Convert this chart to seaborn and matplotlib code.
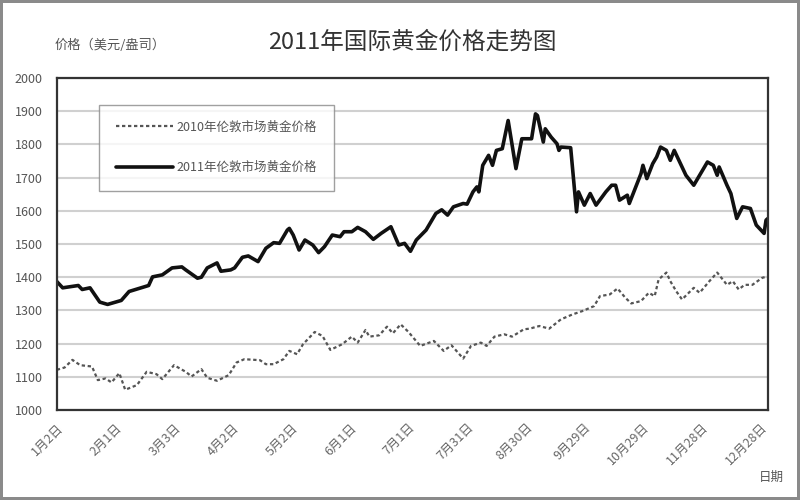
import matplotlib
matplotlib.use("Agg")
import matplotlib.pyplot as plt
import seaborn as sns
import pandas as pd

# === DATA (x = days since Jan 2) ===
days_2011 = [0, 3, 11, 13, 17, 22, 26, 33, 37, 42, 47, 49, 54, 59, 64, 66, 72, 74, 77, 82,
             84, 89, 91, 95, 98, 103, 107, 111, 114, 118, 119, 121, 124, 127, 131, 134, 137,
             141, 145, 147, 151, 154, 158, 162, 166, 171, 175, 178, 181, 184, 189, 194, 197,
             200, 203, 208, 210, 213, 215, 216, 218, 221, 223, 225, 228, 231, 235, 238, 243,
             245, 246, 249, 250, 253, 256, 257, 258, 263, 266, 267, 270, 273, 276, 281, 284,
             286, 288, 292, 293, 299, 300, 302, 305, 307, 309, 312, 314, 316, 318, 322, 326,
             329, 333, 336, 338, 339, 343, 345, 348, 351, 355, 358, 362, 363, 364]
price_2011 = [1387, 1368, 1375, 1363, 1368, 1325, 1318, 1330, 1357, 1366, 1375, 1401, 1407,
              1428, 1431, 1422, 1397, 1400, 1428, 1443, 1418, 1422, 1428, 1460, 1464, 1447,
              1487, 1504, 1502, 1542, 1547, 1527, 1482, 1512, 1497, 1474, 1492, 1527, 1522,
              1537, 1537, 1550, 1537, 1514, 1532, 1552, 1497, 1502, 1478, 1512, 1542, 1592,
              1603, 1587, 1612, 1622, 1620, 1657, 1672, 1657, 1737, 1767, 1737, 1782, 1787,
              1872, 1727, 1817, 1817, 1892, 1887, 1807, 1847, 1822, 1802, 1782, 1792, 1790,
              1597, 1657, 1617, 1652, 1617, 1657, 1677, 1677, 1632, 1647, 1622, 1712, 1737,
              1697, 1742, 1762, 1792, 1782, 1752, 1782, 1757, 1707, 1677, 1707, 1747, 1737,
              1707, 1732, 1677, 1652, 1577, 1612, 1607, 1557, 1532, 1572, 1577]

days_2010 = [0, 4, 8, 12, 18, 21, 25, 28, 32, 35, 41, 46, 51, 54, 60, 66, 69, 74, 77, 82,
             88, 92, 96, 104, 107, 111, 116, 119, 123, 126, 132, 136, 140, 146, 151, 154, 158,
             160, 165, 169, 172, 176, 180, 186, 193, 198, 202, 208, 212, 217, 220, 224, 229,
             233, 239, 242, 247, 252, 258, 264, 269, 275, 278, 283, 287, 291, 294, 299, 303,
             306, 308, 312, 314, 317, 320, 326, 329, 334, 338, 343, 346, 349, 352, 356, 361, 364]
price_2010 = [1121, 1128, 1151, 1135, 1131, 1090, 1095, 1083, 1111, 1061, 1075, 1115, 1108,
              1093, 1135, 1115, 1101, 1123, 1097, 1088, 1105, 1143, 1153, 1150, 1138, 1138,
              1153, 1178, 1168, 1198, 1235, 1223, 1181, 1198, 1221, 1203, 1241, 1221, 1225,
              1251, 1231, 1258, 1235, 1193, 1208, 1178, 1195, 1155, 1193, 1203, 1193, 1221,
              1228, 1221, 1243, 1245, 1253, 1245, 1273, 1288, 1298, 1313, 1343, 1348, 1366,
              1338, 1321, 1328, 1353, 1343, 1393, 1414, 1388, 1358, 1333, 1368, 1353, 1388,
              1414, 1377, 1388, 1363, 1377, 1377, 1398, 1403]

tick_days = [0, 30, 60, 90, 120, 150, 180, 210, 240, 270, 300, 330, 360]
tick_labels = ["1月2日", "2月1日", "3月3日", "4月2日", "5月2日", "6月1日", "7月1日",
               "7月31日", "8月30日", "9月29日", "10月29日", "11月28日", "12月28日"]
y_ticks = list(range(1000, 2001, 100))

label_2010 = "2010年伦敦市场黄金价格"
label_2011 = "2011年伦敦市场黄金价格"

df10 = pd.DataFrame({"day": days_2010, "price": price_2010})
df11 = pd.DataFrame({"day": days_2011, "price": price_2011})

# === STYLE ===
sns.set_style("white")
plt.rcParams["font.family"] = ["Noto Sans CJK SC", "DejaVu Sans"]

fig = plt.figure(figsize=(8, 5), dpi=100)
fig.patch.set_edgecolor("#8a8a8a")
fig.patch.set_linewidth(4)
ax = fig.add_axes([0.071, 0.18, 0.889, 0.664])

ax.yaxis.grid(True, color="#d0d0d0", linewidth=1.5)
ax.set_axisbelow(True)

sns.lineplot(data=df10, x="day", y="price", ax=ax, color="#555555", linewidth=1.6,
             linestyle=(0, (1.5, 1.2)), label=label_2010)
sns.lineplot(data=df11, x="day", y="price", ax=ax, color="#111111", linewidth=2.6,
             label=label_2011)

ax.set_xlim(0, 364)
ax.set_ylim(1000, 2000)
ax.set_yticks(y_ticks)
ax.set_xticks(tick_days)
ax.set_xticklabels(tick_labels, rotation=45, ha="right", rotation_mode="anchor")
ax.tick_params(axis="x", direction="in", length=4, color="#444444", labelsize=9,
               labelcolor="#666666", pad=8)
ax.tick_params(axis="y", length=0, labelsize=9, labelcolor="#555555", pad=10)
ax.set_xlabel("")
ax.set_ylabel("")
for s in ax.spines.values():
    s.set_color("#333333")
    s.set_linewidth(1.6)

# legend box roughly x 100-333, y 105-190 in the reference
leg = ax.legend(loc="upper left", bbox_to_anchor=(0.06, 0.92), frameon=True,
                fancybox=False, edgecolor="#888888", fontsize=9, labelspacing=2.2,
                handlelength=4.6, handletextpad=0.3, borderpad=1.3, borderaxespad=0)
for t in leg.get_texts():
    t.set_color("#555555")

fig.text(0.515, 0.915, "2011年国际黄金价格走势图", ha="center", va="center",
         fontsize=17, color="#333333")
fig.text(0.068, 0.91, "价格（美元/盎司）", ha="left", va="center", fontsize=9.5,
         color="#555555")
fig.text(0.98, 0.045, "日期", ha="right", va="center", fontsize=9, color="#555555")

fig.savefig("out.png", dpi=100)
